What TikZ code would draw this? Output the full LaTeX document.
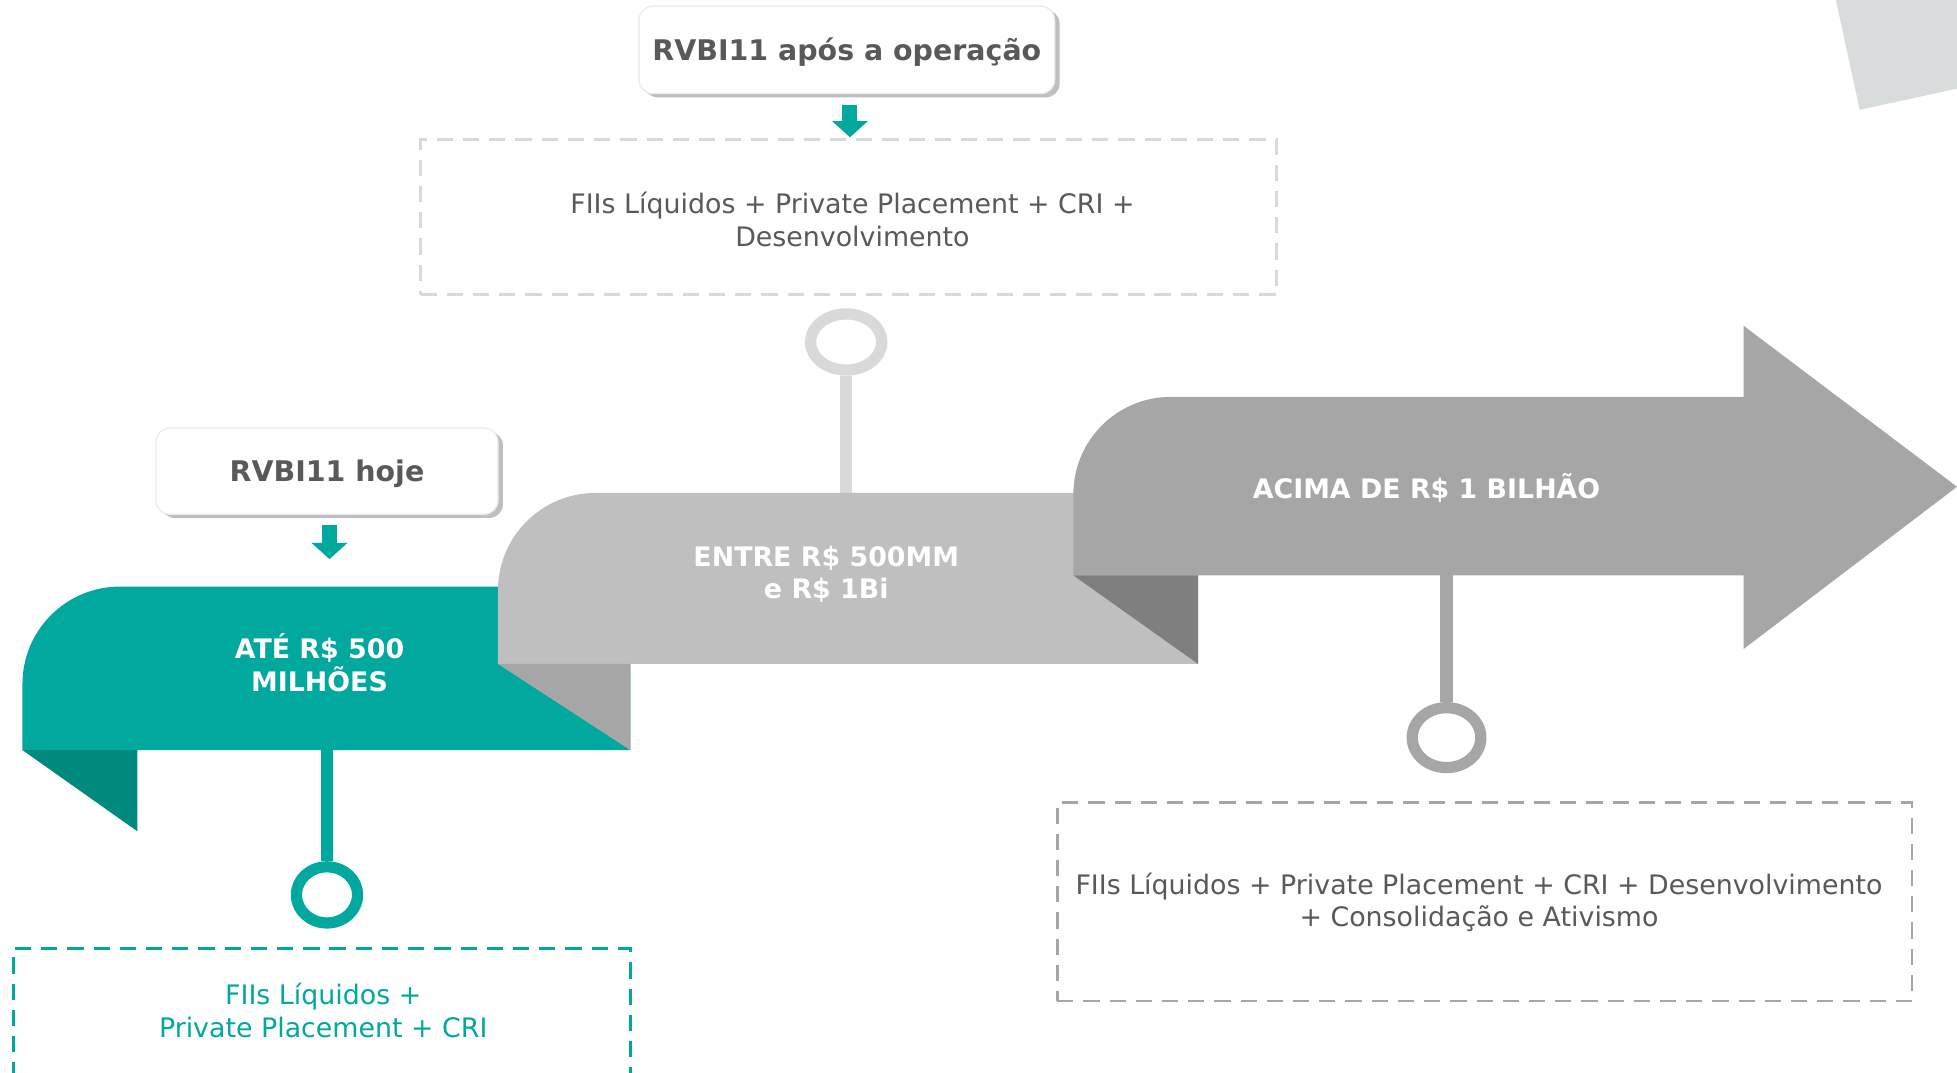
\documentclass[tikz,border=0pt]{standalone}
\usepackage{fontspec}
\setmainfont{DejaVu Sans}
\usetikzlibrary{shapes.geometric,arrows.meta,shadows}
\definecolor{tealA}{HTML}{00A89E}
\definecolor{tealD}{HTML}{008A7E}
\definecolor{greyL}{HTML}{BFBFBF}
\definecolor{greyM}{HTML}{A6A6A6}
\definecolor{greyD}{HTML}{7F7F7F}
\definecolor{greyS}{HTML}{D9D9D9}
\definecolor{greyC}{HTML}{D9DCDD}
\definecolor{txtgrey}{HTML}{595959}
\begin{document}
\begin{tikzpicture}[x=1pt,y=-1pt,
  titlebox/.style={rounded corners=11pt, fill=white, draw=black!8, line width=1pt,
    drop shadow={shadow xshift=4pt, shadow yshift=-3pt, fill=black!25, opacity=1},
    font=\fontsize{22.8}{26}\selectfont\bfseries, text=txtgrey, inner sep=0pt,
    text height=20pt, text depth=3.2pt},
  ribbontext/.style={font=\fontsize{21.5}{26}\selectfont\bfseries, text=white, align=center, inner sep=0pt},
  bodytext/.style={font=\fontsize{21.5}{26}\selectfont, align=center, inner sep=0pt},
  dbox/.style={draw, dashed, dash pattern=on 13pt off 8pt, line width=2.2pt, inner sep=0pt},
  downarrow/.style={draw=tealA, line width=12pt, -{Triangle[width=28pt,length=13pt]}},
  stem/.style={line width=10pt},
  ring/.style={ellipse, draw, line width=9pt, inner sep=0pt}]
\clip (0,0) rectangle (1568,859);
\fill[white] (0,0) rectangle (1568,859);
% corner decoration
\fill[greyC] (1471,0) -- (1490,88) -- (1568,71) -- (1568,0) -- cycle;

% teal ribbon
\fill[tealA] (18,601) [rounded corners=78pt] -- (18,470) [sharp corners] -- (505,470) -- (505,601) -- cycle;
\fill[tealD] (18,601) -- (110,601) -- (110,666) -- cycle;
% top grey stem (behind middle ribbon)
\coordinate (m1) at (678,396);
\node[ring, draw=greyS, minimum width=57pt, minimum height=45pt] (r2) at (678,274) {};
\draw[stem, greyS] (r2.south) -- (m1);
% middle ribbon
\fill[greyL] (399,532) [rounded corners=78pt] -- (399,395) [sharp corners] -- (960,395) -- (960,532) -- cycle;
\fill[greyM] (399,532) -- (505,532) -- (505,601) -- cycle;
% big arrow
\fill[greyM] (860,461) [rounded corners=78pt] -- (860,318) [sharp corners] -- (1397,318) -- (1397,261) -- (1568,390) -- (1397,520) -- (1397,461) -- cycle;
\fill[greyD] (860,461) -- (960,461) -- (960,532) -- cycle;

% ribbon texts
\node[ribbontext] (t1) at (256,531) {ATÉ R\$ 500\\MILHÕES};
\node[ribbontext] (t2) at (662,460) {ENTRE R\$ 500MM\\e R\$ 1Bi};
\node[ribbontext] (t3) at (1143,391) {ACIMA DE R\$ 1 BILHÃO};

% teal pin
\coordinate (c1) at (262,600);
\node[ring, draw=tealA, minimum width=49pt, minimum height=45pt] (r1) at (262,717) {};
\draw[stem, tealA] (c1) -- (r1.north);
% grey pin
\coordinate (c3) at (1159,460);
\node[ring, draw=greyM, minimum width=55pt, minimum height=48pt] (r3) at (1159,591) {};
\draw[stem, greyM] (c3) -- (r3.north);

% title boxes
\node[titlebox, minimum width=333pt, minimum height=70pt] (b1) at (678.5,40) {RVBI11 após a operação};
\node[titlebox, minimum width=274pt, minimum height=69pt] (b2) at (262,377.5) {RVBI11 hoje};

% dashed boxes
\node[dbox, draw=greyS, minimum width=686pt, minimum height=124pt] (d1) at (680,174) {};
\node[bodytext, text=txtgrey] (d1t) at (683,176) {FIIs Líquidos + Private Placement + CRI +\\Desenvolvimento};
\node[dbox, draw=greyM, minimum width=685pt, minimum height=159pt] (d3) at (1189.5,722.5) {};
\node[bodytext, text=txtgrey] (d3t) at (1185,723) {FIIs Líquidos + Private Placement + CRI + Desenvolvimento\\+ Consolidação e Ativismo};
\node[dbox, draw=tealA, minimum width=494pt, minimum height=160pt, anchor=north] (d2) at (258,759) {};
\node[bodytext, text=tealA] (d2t) at (259,809.5) {FIIs Líquidos +\\Private Placement + CRI};

% down arrows
\coordinate (a1s) at (681,84);
\coordinate (a1e) at (681,110);
\draw[downarrow] (a1s) -- (a1e);
\coordinate (a2s) at (264,421);
\coordinate (a2e) at (264,448);
\draw[downarrow] (a2s) -- (a2e);
\end{tikzpicture}
\end{document}
